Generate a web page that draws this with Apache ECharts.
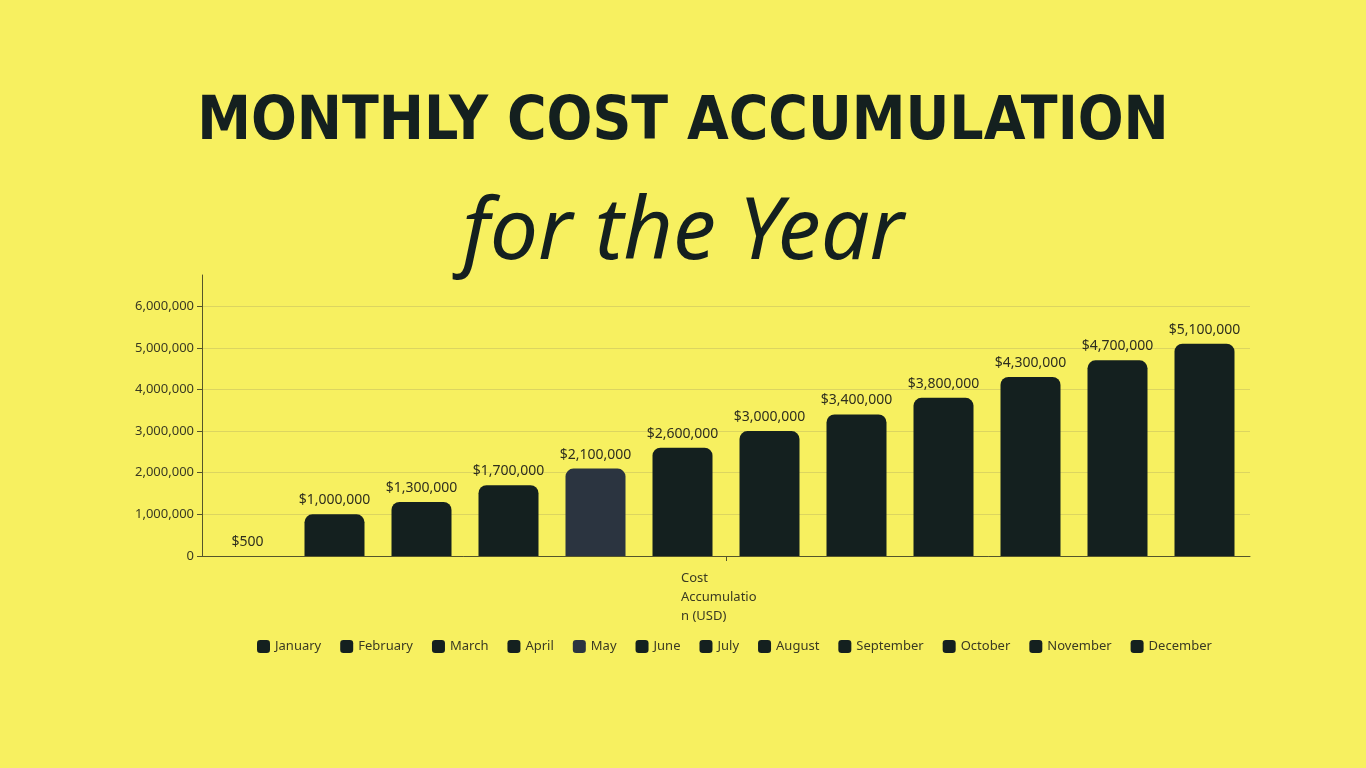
<!DOCTYPE html><html><head><meta charset="utf-8">
<script src="https://cdn.jsdelivr.net/npm/echarts@6/dist/echarts.min.js"></script>
<style>html,body{margin:0;background:#f7f060}#c{width:1366px;height:768px}</style></head><body><div id="c"></div>
<script>
const months=['January','February','March','April','May','June','July','August','September','October','November','December'];
const values=[500,1000000,1300000,1700000,2100000,2600000,3000000,3400000,3800000,4300000,4700000,5100000];
const category=['Cost Accumulation (USD)'];
const colors=months.map((m,i)=>i===4?'#2b3440':'#14201f');
const chart=echarts.init(document.getElementById('c'));
chart.setOption({
backgroundColor:'#f7f060',
title:[{text:'MONTHLY COST ACCUMULATION',left:'center',top:88,textStyle:{fontFamily:'DejaVu Sans Condensed',fontWeight:'bold',fontSize:60,color:'#14201f'}},
{text:'for the Year',left:'center',top:186,textStyle:{fontFamily:'Noto Sans',fontStyle:'italic',fontWeight:'normal',fontSize:86,color:'#14201f'}}],
graphic:[{type:'text',left:681,top:569,style:{text:'Cost\nAccumulatio\nn (USD)',font:'13px "Noto Sans"',fill:'#3a3a22',lineHeight:19}}],
legend:{bottom:110,left:252,itemWidth:13,itemHeight:13,itemGap:19,icon:'roundRect',textStyle:{fontFamily:'Noto Sans',fontSize:13,color:'#3a3a22'}},
grid:{left:202,right:116,top:275,bottom:212},
xAxis:{type:'category',data:category,axisLine:{lineStyle:{color:'#55552a'}},axisTick:{show:true,alignWithLabel:true,lineStyle:{color:'#55552a'}},axisLabel:{show:false}},
yAxis:{type:'value',min:0,max:6750000,interval:1000000,axisLine:{show:true,lineStyle:{color:'#55552a'}},axisTick:{show:true,lineStyle:{color:'#55552a'}},
 splitLine:{showMaxLine:false,lineStyle:{color:'#dcd560'}},
 axisLabel:{showMaxLabel:false,fontFamily:'Noto Sans',fontSize:13,color:'#3a3a22',formatter:v=>v.toLocaleString('en-US')}},
series:months.map((m,i)=>({name:m,type:'bar',data:[values[i]],barWidth:60,barGap:'45%',barCategoryGap:'0%',
 itemStyle:{color:colors[i],borderRadius:[8,8,0,0]},
 label:{show:true,position:'top',distance:7,fontFamily:'Noto Sans',fontSize:14,color:'#2e2e1e',formatter:p=>'$'+p.value.toLocaleString('en-US')}}))
});
</script></body></html>
